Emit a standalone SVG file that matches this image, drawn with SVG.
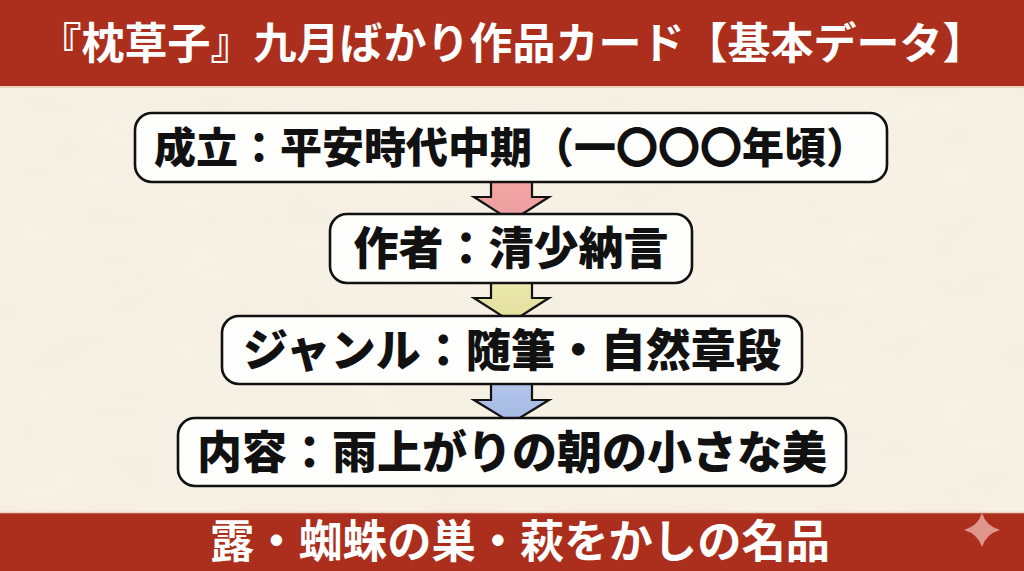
<svg xmlns="http://www.w3.org/2000/svg" width="1024" height="571" viewBox="0 0 1024 571">
  <defs>
    <style>
      .box { fill: #FEFEFC; stroke: #111; stroke-width: 2.6; }
      .btxt { font-family: "Noto Sans CJK JP", "Noto Sans CJK SC", sans-serif; font-weight: 900; fill: #111; text-anchor: middle; }
      .bar { fill: #AC2F1D; }
      .bartxt { font-family: "Noto Sans CJK JP", "Noto Sans CJK SC", sans-serif; font-weight: 700; fill: #FFFFFF; text-anchor: middle; }
      .arrow { stroke: #111; stroke-width: 2.2; stroke-linejoin: miter; }
    </style>
    <filter id="paper" x="0" y="0" width="100%" height="100%">
      <feTurbulence type="fractalNoise" baseFrequency="0.012 0.03" numOctaves="3" seed="7" result="n"/>
      <feColorMatrix type="matrix" values="0 0 0 0 0.82  0 0 0 0 0.76  0 0 0 0 0.62  0 0 0 0.3 -0.05" />
    </filter>
    <linearGradient id="gPink" x1="0" y1="0" x2="0" y2="1">
      <stop offset="0" stop-color="#F4A7A6"/>
      <stop offset="1" stop-color="#EC9C9E"/>
    </linearGradient>
    <linearGradient id="gYellow" x1="0" y1="0" x2="0" y2="1">
      <stop offset="0" stop-color="#ECE9B0"/>
      <stop offset="1" stop-color="#E2DE9C"/>
    </linearGradient>
    <linearGradient id="gBlue" x1="0" y1="0" x2="0" y2="1">
      <stop offset="0" stop-color="#B4C6EA"/>
      <stop offset="1" stop-color="#A3B8E4"/>
    </linearGradient>
  </defs>

  <g id="background">
    <rect x="0" y="0" width="1024" height="571" fill="#F7F2E6"/>
    <rect x="0" y="0" width="1024" height="571" filter="url(#paper)"/>
  </g>

  <g id="header">
    <rect class="bar" x="0" y="0" width="1024" height="86"/>
    <line x1="0" y1="87" x2="1024" y2="87" stroke="#EAD2C0" stroke-width="2"/>
    <text class="bartxt" x="512" y="59" font-size="43">『枕草子』九月ばかり作品カード【基本データ】</text>
  </g>

  <g id="connectors">
    <polygon class="arrow" fill="url(#gPink)" points="491,177 532,177 532,197 549,197 511.5,221 474,197 491,197"/>
    <polygon class="arrow" fill="url(#gYellow)" points="491,279 532,279 532,298 549,298 511.5,322 474,298 491,298"/>
    <polygon class="arrow" fill="url(#gBlue)" points="491,380 532,380 532,400 549,400 511.5,423 474,400 491,400"/>
  </g>

  <g id="node-seiritsu">
    <rect class="box" x="135" y="113" width="752" height="69" rx="17"/>
    <text class="btxt" x="511" y="163" font-size="42">成立：平安時代中期（一〇〇〇年頃）</text>
  </g>

  <g id="node-sakusha">
    <rect class="box" x="330" y="214" width="362" height="69" rx="17"/>
    <text class="btxt" x="511" y="265" font-size="45">作者：清少納言</text>
  </g>

  <g id="node-genre">
    <rect class="box" x="222" y="316" width="580" height="68" rx="17"/>
    <text class="btxt" x="512" y="367" font-size="45">ジャンル：随筆・自然章段</text>
  </g>

  <g id="node-naiyou">
    <rect class="box" x="178" y="418" width="668" height="68" rx="17"/>
    <text class="btxt" x="512" y="469" font-size="45">内容：雨上がりの朝の小さな美</text>
  </g>

  <g id="footer">
    <rect class="bar" x="0" y="513" width="1024" height="58"/>
    <line x1="0" y1="512.5" x2="1024" y2="512.5" stroke="#EAD2C0" stroke-width="1.5"/>
    <text class="bartxt" x="520" y="558" font-size="45" textLength="620" lengthAdjust="spacingAndGlyphs">露・蜘蛛の巣・萩をかしの名品</text>
    <path d="M982,513 Q986,526 1000,530 Q986,534 982,547 Q978,534 964,530 Q978,526 982,513 Z" fill="#E8A8A0" opacity="0.85"/>
  </g>
</svg>
